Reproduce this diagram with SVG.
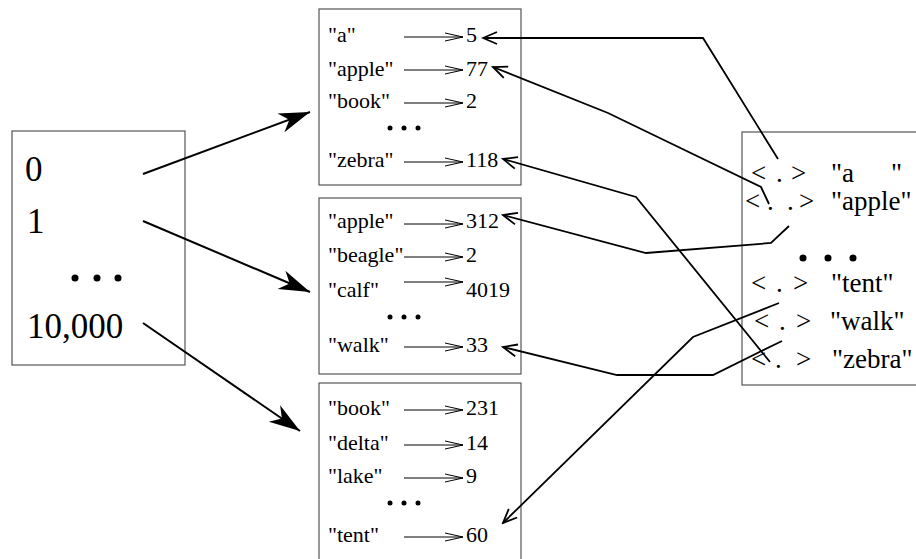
<svg xmlns="http://www.w3.org/2000/svg" width="916" height="559" viewBox="0 0 916 559">
  <style>
    .box { fill: #ffffff; stroke: #555555; stroke-width: 1.2; }
    .big { font-family: "Liberation Serif", "Times New Roman", serif; font-size: 35px; fill: #000; }
    .mid { font-family: "Liberation Serif", "Times New Roman", serif; font-size: 22px; fill: #000; }
    .rgt { font-family: "Liberation Serif", "Times New Roman", serif; font-size: 27px; fill: #000; }
    .dot { fill: #000; }
    .thin { fill: none; stroke: #000; stroke-width: 1; marker-end: url(#openSmall); }
    .fat { fill: none; stroke: #000; stroke-width: 2; marker-end: url(#filled); }
    .link { fill: none; stroke: #000; stroke-width: 1.8; stroke-linejoin: miter; marker-end: url(#openLink); }
  </style>
  <defs>
    <marker id="filled" markerUnits="userSpaceOnUse" orient="auto" viewBox="-32 -12 34 24" refX="0" refY="0" markerWidth="34" markerHeight="24">
      <path d="M0,0 L-31,-10 L-22,0 L-31,10 Z" fill="#000"/>
    </marker>
    <marker id="openSmall" markerUnits="userSpaceOnUse" orient="auto" viewBox="-20 -6 22 12" refX="0" refY="0" markerWidth="22" markerHeight="12">
      <path d="M-18,-4 L0,0 L-18,4" fill="none" stroke="#000" stroke-width="1"/>
    </marker>
    <marker id="openLink" markerUnits="userSpaceOnUse" orient="auto" viewBox="-16 -8 18 16" refX="0" refY="0" markerWidth="18" markerHeight="16">
      <path d="M-14,-6 L0,0 L-14,6" fill="none" stroke="#000" stroke-width="1.8"/>
    </marker>
  </defs>

  <!-- index table -->
  <g id="index">
    <rect class="box" x="12" y="131" width="173" height="234"/>
    <text class="big" x="25" y="181">0</text>
    <text class="big" x="27" y="233">1</text>
    <circle class="dot" cx="75" cy="278" r="3.5"/>
    <circle class="dot" cx="97" cy="278" r="3.5"/>
    <circle class="dot" cx="118" cy="278" r="3.5"/>
    <text class="big" x="27" y="338">10,000</text>
  </g>

  <!-- bucket 0 -->
  <g id="bucket0">
    <rect class="box" x="319" y="9" width="202" height="176"/>
    <text class="mid" x="328" y="42">"a"</text>
    <line class="thin" x1="404" y1="37" x2="463" y2="37"/>
    <text class="mid" x="466" y="42">5</text>
    <text class="mid" x="328" y="76">"apple"</text>
    <line class="thin" x1="404" y1="70" x2="463" y2="70"/>
    <text class="mid" x="466" y="76">77</text>
    <text class="mid" x="328" y="108">"book"</text>
    <line class="thin" x1="404" y1="103" x2="463" y2="103"/>
    <text class="mid" x="466" y="108">2</text>
    <circle class="dot" cx="390" cy="128" r="2.5"/>
    <circle class="dot" cx="404" cy="128" r="2.5"/>
    <circle class="dot" cx="418" cy="128" r="2.5"/>
    <text class="mid" x="328" y="167">"zebra"</text>
    <line class="thin" x1="404" y1="162" x2="463" y2="162"/>
    <text class="mid" x="466" y="167">118</text>
  </g>

  <!-- bucket 1 -->
  <g id="bucket1">
    <rect class="box" x="319" y="198" width="202" height="176"/>
    <text class="mid" x="328" y="228">"apple"</text>
    <line class="thin" x1="404" y1="224" x2="463" y2="224"/>
    <text class="mid" x="466" y="228">312</text>
    <text class="mid" x="328" y="262">"beagle"</text>
    <line class="thin" x1="404" y1="257" x2="463" y2="257"/>
    <text class="mid" x="466" y="262">2</text>
    <text class="mid" x="328" y="297">"calf"</text>
    <line class="thin" x1="404" y1="282" x2="463" y2="282"/>
    <text class="mid" x="466" y="297">4019</text>
    <circle class="dot" cx="390" cy="317" r="2.5"/>
    <circle class="dot" cx="404" cy="317" r="2.5"/>
    <circle class="dot" cx="418" cy="317" r="2.5"/>
    <text class="mid" x="328" y="352">"walk"</text>
    <line class="thin" x1="404" y1="347" x2="463" y2="347"/>
    <text class="mid" x="466" y="352">33</text>
  </g>

  <!-- bucket 10,000 -->
  <g id="bucket10000">
    <rect class="box" x="319" y="383" width="202" height="190"/>
    <text class="mid" x="328" y="415">"book"</text>
    <line class="thin" x1="404" y1="410" x2="463" y2="410"/>
    <text class="mid" x="466" y="415">231</text>
    <text class="mid" x="328" y="450">"delta"</text>
    <line class="thin" x1="404" y1="445" x2="463" y2="445"/>
    <text class="mid" x="466" y="450">14</text>
    <text class="mid" x="328" y="483">"lake"</text>
    <line class="thin" x1="404" y1="478" x2="463" y2="478"/>
    <text class="mid" x="466" y="483">9</text>
    <circle class="dot" cx="390" cy="503" r="2.5"/>
    <circle class="dot" cx="404" cy="503" r="2.5"/>
    <circle class="dot" cx="418" cy="503" r="2.5"/>
    <text class="mid" x="328" y="542">"tent"</text>
    <line class="thin" x1="404" y1="537" x2="463" y2="537"/>
    <text class="mid" x="466" y="542">60</text>
  </g>

  <!-- key list -->
  <g id="keys">
    <rect class="box" x="742" y="132" width="180" height="253"/>
    <text class="rgt" y="182"><tspan x="751">&lt;</tspan><tspan x="776">.</tspan><tspan x="791">&gt;</tspan><tspan x="831">"a</tspan><tspan x="891">"</tspan></text>
    <text class="rgt" y="210"><tspan x="745">&lt;</tspan><tspan x="767">.</tspan><tspan x="787">.</tspan><tspan x="799">&gt;</tspan><tspan x="831">"apple"</tspan></text>
    <circle class="dot" cx="803" cy="258" r="3.5"/>
    <circle class="dot" cx="828" cy="258" r="3.5"/>
    <circle class="dot" cx="853" cy="258" r="3.5"/>
    <text class="rgt" y="292"><tspan x="751">&lt;</tspan><tspan x="776">.</tspan><tspan x="793">&gt;</tspan><tspan x="831">"tent"</tspan></text>
    <text class="rgt" y="330"><tspan x="754">&lt;</tspan><tspan x="779">.</tspan><tspan x="796">&gt;</tspan><tspan x="830">"walk"</tspan></text>
    <text class="rgt" y="368"><tspan x="751">&lt;</tspan><tspan x="775">.</tspan><tspan x="796">&gt;</tspan><tspan x="832">"zebra"</tspan></text>
  </g>

  <!-- connectors -->
  <g id="connectors">
    <line class="fat" x1="143" y1="174" x2="310" y2="112"/>
    <line class="fat" x1="143" y1="221" x2="310" y2="292"/>
    <line class="fat" x1="143" y1="323" x2="300" y2="431"/>

    <polyline class="link" points="778,159 703,38 483,38"/>
    <polyline class="link" points="769,204 761,187 608,113 493,67"/>
    <polyline class="link" points="789,226 771,243 646,253 503,215"/>
    <polyline class="link" points="770,362 636,197 503,159"/>
    <polyline class="link" points="782,341 713,375 617,375 503,347"/>
    <polyline class="link" points="779,303 693,337 503,523"/>
  </g>
</svg>
